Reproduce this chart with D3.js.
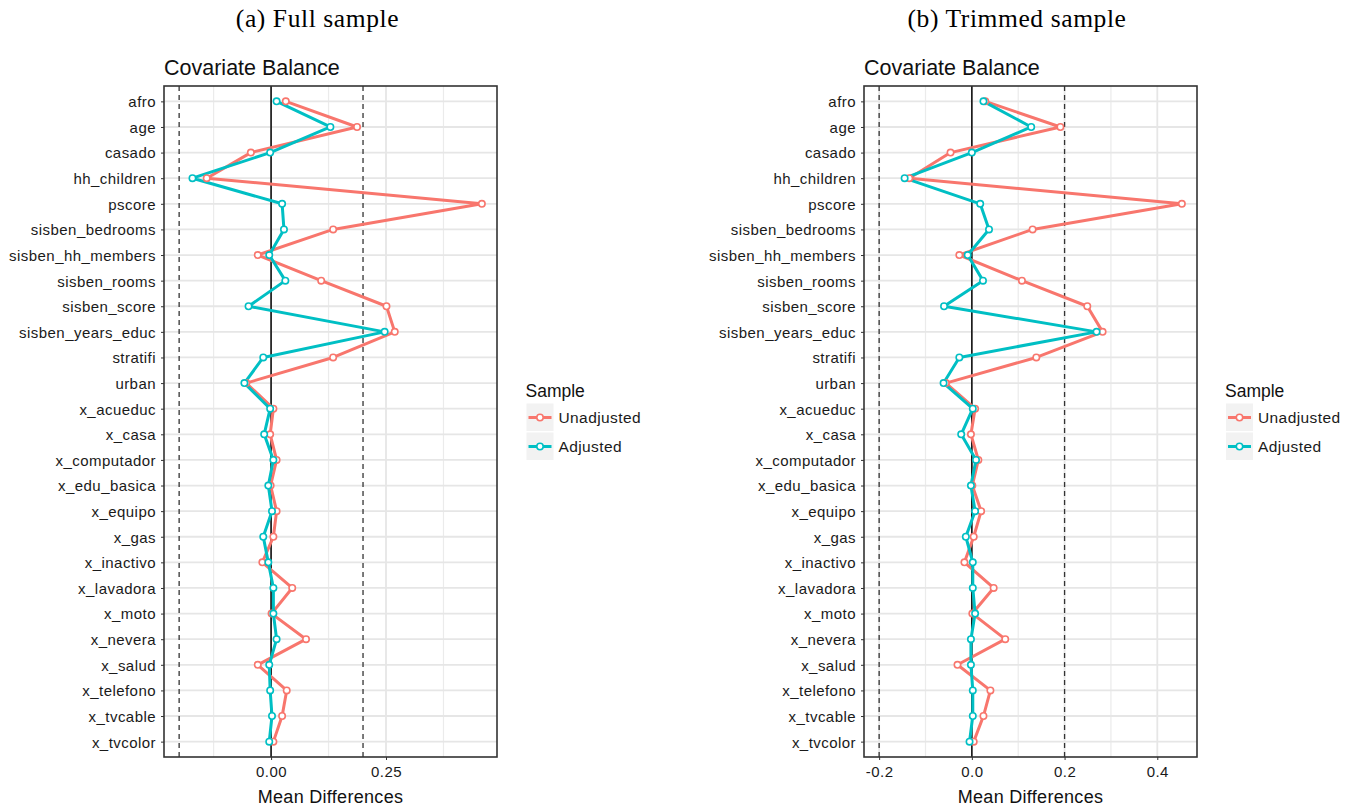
<!DOCTYPE html>
<html><head><meta charset="utf-8">
<script src="https://cdn.jsdelivr.net/npm/d3@7"></script>
<style>
body{margin:0;background:#fff;}
svg{display:block;}
</style></head>
<body>
<svg id="chart" width="1355" height="811"></svg>
<script>
const categories = ["afro","age","casado","hh_children","pscore","sisben_bedrooms","sisben_hh_members","sisben_rooms","sisben_score","sisben_years_educ","stratifi","urban","x_acueduc","x_casa","x_computador","x_edu_basica","x_equipo","x_gas","x_inactivo","x_lavadora","x_moto","x_nevera","x_salud","x_telefono","x_tvcable","x_tvcolor"];
const fullUnadjusted = [0.032,0.187,-0.044,-0.140,0.4585,0.135,-0.029,0.109,0.251,0.269,0.135,-0.054,0.005,-0.002,0.012,-0.001,0.012,0.005,-0.019,0.046,0.001,0.076,-0.029,0.034,0.024,0.005];
const fullAdjusted   = [0.012,0.129,-0.002,-0.171,0.024,0.028,-0.004,0.031,-0.049,0.247,-0.017,-0.058,-0.002,-0.015,0.005,-0.006,0.002,-0.017,-0.006,0.005,0.005,0.012,-0.004,-0.002,0.002,-0.004];
const trimUnadjusted = [0.029,0.191,-0.046,-0.135,0.453,0.131,-0.027,0.108,0.249,0.282,0.139,-0.056,0.007,-0.002,0.014,0.001,0.020,0.004,-0.016,0.047,0.001,0.072,-0.031,0.040,0.025,0.004];
const trimAdjusted   = [0.025,0.128,0.000,-0.145,0.018,0.037,-0.009,0.024,-0.060,0.269,-0.027,-0.061,0.002,-0.023,0.009,-0.002,0.007,-0.013,0.002,0.002,0.007,-0.002,-0.002,0.002,0.002,-0.005];
const seriesNames = ["Unadjusted","Adjusted"];
const thresholds = [-0.2, 0.2];
const fullTicks = [0, 0.25];
const fullTickLabels = ["0.00","0.25"];
const fullMinor = [-0.125, 0.125, 0.375];
const trimTicks = [-0.2, 0, 0.2, 0.4];
const trimTickLabels = ["-0.2","0.0","0.2","0.4"];
const trimMinor = [-0.1, 0.1, 0.3];
const panelTitles = ["(a) Full sample", "(b) Trimmed sample"];
const plotTitle = "Covariate Balance";
const xTitle = "Mean Differences";
const legendTitle = "Sample";
</script>
<script>
const colors = ["#F8766D", "#00BFC4"];
const svg = d3.select("#chart");
const sansFont = "'Liberation Sans', Arial, sans-serif";

function drawPanel(cfg) {
  const g = svg.append("g");
  const {left, right, top, bottom} = cfg;
  const cats = categories;
  const vals = cfg.series;
  const all = vals.flat().concat(thresholds);
  const ext = d3.extent(all);
  const pad = (ext[1] - ext[0]) * 0.05;
  const x = d3.scaleLinear().domain([ext[0] - pad, ext[1] + pad]).range([left, right]);
  const y = d3.scalePoint().domain(cats).range([top, bottom]).padding(0.6);

  // gridlines
  g.append("g").selectAll("line").data(cfg.minor).join("line")
    .attr("x1", d => x(d)).attr("x2", d => x(d)).attr("y1", top).attr("y2", bottom)
    .attr("stroke", "#ebebeb").attr("stroke-width", 1.2);
  g.append("g").selectAll("line").data(cfg.ticks).join("line")
    .attr("x1", d => x(d)).attr("x2", d => x(d)).attr("y1", top).attr("y2", bottom)
    .attr("stroke", "#e6e6e6").attr("stroke-width", 1.8);
  g.append("g").selectAll("line").data(cats).join("line")
    .attr("x1", left).attr("x2", right).attr("y1", d => y(d)).attr("y2", d => y(d))
    .attr("stroke", "#e6e6e6").attr("stroke-width", 1.8);

  // threshold dashed lines
  g.append("g").selectAll("line").data(thresholds).join("line")
    .attr("x1", d => x(d)).attr("x2", d => x(d)).attr("y1", top).attr("y2", bottom)
    .attr("stroke", "#333").attr("stroke-width", 1.3).attr("stroke-dasharray", "5,4");
  // zero line
  g.append("line").attr("x1", x(0)).attr("x2", x(0)).attr("y1", top).attr("y2", bottom)
    .attr("stroke", "#111").attr("stroke-width", 1.6);

  // lines then points
  const line = d3.line().x(d => x(d.v)).y(d => y(d.c));
  const ptsAll = vals.map(s => cats.map((c, k) => ({c, v: s[k]})));
  ptsAll.forEach((pts, i) => {
    g.append("path").datum(pts).attr("d", line).attr("fill", "none")
      .attr("stroke", colors[i]).attr("stroke-width", 3).attr("stroke-linejoin", "round");
  });
  ptsAll.forEach((pts, i) => {
    g.append("g").selectAll("circle").data(pts).join("circle")
      .attr("cx", d => x(d.v)).attr("cy", d => y(d.c)).attr("r", 3.2)
      .attr("fill", "#fff").attr("stroke", colors[i]).attr("stroke-width", 1.6);
  });

  // border
  g.append("rect").attr("x", left).attr("y", top).attr("width", right - left).attr("height", bottom - top)
    .attr("fill", "none").attr("stroke", "#333").attr("stroke-width", 1.6);

  // axes
  const ya = g.append("g").attr("transform", `translate(${left},0)`)
    .call(d3.axisLeft(y).tickSize(3).tickPadding(5));
  ya.select(".domain").remove();
  ya.selectAll(".tick line").attr("stroke", "#333");
  ya.selectAll("text").attr("font-family", sansFont).attr("font-size", 15)
    .attr("letter-spacing", 0.45).attr("fill", "#1a1a1a").attr("dy", "0.36em");

  const xa = g.append("g").attr("transform", `translate(0,${bottom})`)
    .call(d3.axisBottom(x).tickValues(cfg.ticks).tickFormat((d, i) => cfg.tickLabels[i]).tickSize(3).tickPadding(6));
  xa.select(".domain").remove();
  xa.selectAll(".tick line").attr("stroke", "#333");
  xa.selectAll("text").attr("font-family", sansFont).attr("font-size", 15)
    .attr("letter-spacing", 0.45).attr("fill", "#1a1a1a");

  // titles
  g.append("text").attr("x", left).attr("y", 75).text(plotTitle)
    .attr("font-family", sansFont).attr("font-size", 21.5).attr("fill", "#111");
  g.append("text").attr("x", (left + right) / 2).attr("y", 803).attr("text-anchor", "middle").text(xTitle)
    .attr("font-family", sansFont).attr("font-size", 18).attr("letter-spacing", 0.3).attr("fill", "#111");
  g.append("text").attr("x", cfg.subX).attr("y", 27).attr("text-anchor", "middle").text(cfg.subtitle)
    .attr("font-family", "'Liberation Serif', 'DejaVu Serif', serif").attr("font-size", 25.5)
    .attr("letter-spacing", 0.6).attr("fill", "#000");

  // legend
  const lg = g.append("g");
  lg.append("text").attr("x", cfg.legX - 1).attr("y", 397).text(legendTitle)
    .attr("font-family", sansFont).attr("font-size", 17.5).attr("fill", "#111");
  seriesNames.forEach((n, i) => {
    const ky = 403.5 + i * 29;
    lg.append("rect").attr("x", cfg.legX).attr("y", ky).attr("width", 27).attr("height", 27.5)
      .attr("fill", "#f2f2f2");
    lg.append("line").attr("x1", cfg.legX + 2).attr("x2", cfg.legX + 25).attr("y1", ky + 14).attr("y2", ky + 14)
      .attr("stroke", colors[i]).attr("stroke-width", 3);
    lg.append("circle").attr("cx", cfg.legX + 13.5).attr("cy", ky + 14).attr("r", 3.2)
      .attr("fill", "#fff").attr("stroke", colors[i]).attr("stroke-width", 1.6);
    lg.append("text").attr("x", cfg.legX + 32).attr("y", ky + 14).attr("dy", "0.36em").text(n)
      .attr("font-family", sansFont).attr("font-size", 15.5).attr("letter-spacing", 0.4).attr("fill", "#1a1a1a");
  });
}

drawPanel({left: 164, right: 497, top: 86, bottom: 757,
  series: [fullUnadjusted, fullAdjusted],
  ticks: fullTicks, tickLabels: fullTickLabels, minor: fullMinor,
  subtitle: panelTitles[0], subX: 317.5, legX: 526.5});
drawPanel({left: 864, right: 1197, top: 86, bottom: 757,
  series: [trimUnadjusted, trimAdjusted],
  ticks: trimTicks, tickLabels: trimTickLabels, minor: trimMinor,
  subtitle: panelTitles[1], subX: 1017, legX: 1226});
</script>
</body></html>
